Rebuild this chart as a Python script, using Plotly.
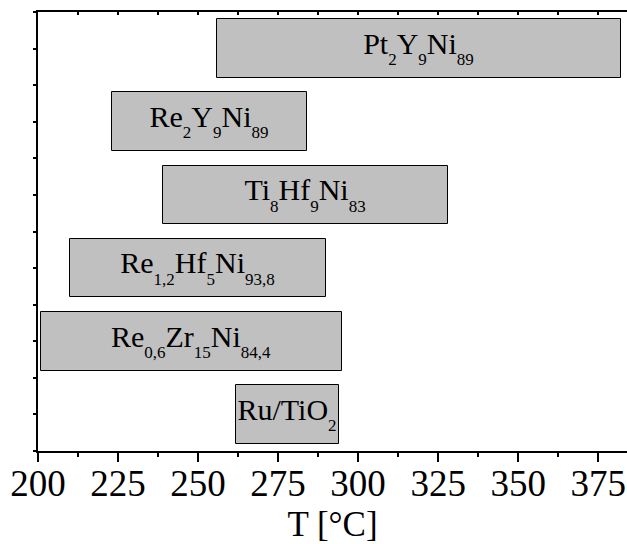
import plotly.graph_objects as go

catalysts = [
    "Pt<sub>2</sub>Y<sub>9</sub>Ni<sub>89</sub>",
    "Re<sub>2</sub>Y<sub>9</sub>Ni<sub>89</sub>",
    "Ti<sub>8</sub>Hf<sub>9</sub>Ni<sub>83</sub>",
    "Re<sub>1,2</sub>Hf<sub>5</sub>Ni<sub>93,8</sub>",
    "Re<sub>0,6</sub>Zr<sub>15</sub>Ni<sub>84,4</sub>",
    "Ru/TiO<sub>2</sub>",
]
t_start = [256, 223, 239, 210, 201, 262]
t_end = [382, 284, 328, 290, 295, 294]
row_pos = [11, 9, 7, 5, 3, 1]

x_ticks = [200, 225, 250, 275, 300, 325, 350, 375]

SERIF = "Liberation Serif, Times New Roman, serif"
SUB_STYLE = "font-size:17px;baseline-shift:-5px"

labels = [
    c.replace("<sub>", f'<sub><span style="{SUB_STYLE}">').replace("</sub>", "</span></sub>")
    for c in catalysts
]
widths = [e - s for s, e in zip(t_start, t_end)]

fig = go.Figure()
fig.add_trace(go.Bar(
    orientation="h",
    y=row_pos,
    x=widths,
    base=t_start,
    width=1.6,
    marker=dict(color="#c0c0c0", line=dict(color="#000000", width=1)),
    text=labels,
    textposition="inside",
    insidetextanchor="middle",
    constraintext="none",
    textfont=dict(family=SERIF, size=30, color="#000000"),
    cliponaxis=False,
    hoverinfo="skip",
    showlegend=False,
))
# invisible companion trace so the top axis (frame line + inner ticks) is drawn
fig.add_trace(go.Scatter(
    x=t_start, y=row_pos, xaxis="x2", yaxis="y", mode="markers",
    marker=dict(opacity=0), hoverinfo="skip", showlegend=False,
))

fig.update_layout(
    width=627, height=544,
    margin=dict(l=38, r=0, t=12, b=93),
    paper_bgcolor="white", plot_bgcolor="white",
    font=dict(family=SERIF, color="#000000"),
    xaxis=dict(
        range=[200, 384], tickmode="array", tickvals=x_ticks,
        ticktext=[str(v) for v in x_ticks],
        ticks="outside", ticklen=9, tickwidth=1.5, tickcolor="#000",
        minor=dict(tickmode="linear", tick0=212.5, dtick=25, ticks="outside", ticklen=4, tickwidth=1.5, tickcolor="#000"),
        showline=True, linewidth=2, linecolor="#000",
        showgrid=False, zeroline=False,
        tickfont=dict(family=SERIF, size=37, color="#000"),
        ticklabelstandoff=-10,
        title=dict(text="T [°C]", font=dict(family=SERIF, size=35, color="#000"), standoff=8),
        fixedrange=True,
    ),
    xaxis2=dict(
        overlaying="x", anchor="y", side="top", range=[200, 384],
        tickmode="linear", tick0=200, dtick=12.5, ticks="inside", ticklen=3, tickwidth=1.5, tickcolor="#000",
        showticklabels=False, showline=True, linewidth=2, linecolor="#000",
        showgrid=False, zeroline=False, fixedrange=True,
    ),
    yaxis=dict(
        range=[0, 12], tick0=0, dtick=1,
        ticks="outside", ticklen=3, tickwidth=1.5, tickcolor="#000",
        showticklabels=False, showline=True, linewidth=2, linecolor="#000",
        showgrid=False, zeroline=False, fixedrange=True,
    ),
    bargap=0,
)

fig.write_html("out.html")
